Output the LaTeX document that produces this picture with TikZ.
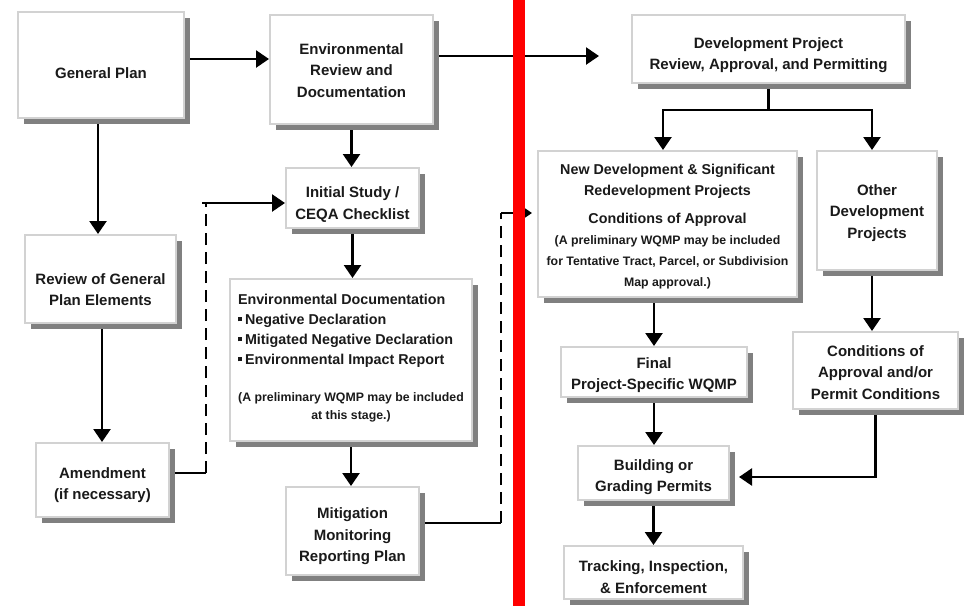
\documentclass[tikz,border=0pt]{standalone}
\usepackage{fontspec}
\setmainfont{Liberation Sans}
\usetikzlibrary{arrows.meta,shadows}
\pgfdeclarelayer{background}
\pgfsetlayers{background,main}
\definecolor{boxedge}{HTML}{D2D2D2}
\definecolor{shadowgray}{HTML}{808080}
\definecolor{txt}{HTML}{1A1A1A}
\newcommand{\notefont}{\fontsize{12.3}{21}\selectfont}
\newcommand{\sqbul}{\raisebox{3pt}{\rule{4pt}{4pt}}\hspace{3pt}}
\newcommand{\wideline}[1]{\makebox[\linewidth][c]{#1}}
% centred lines, drawn #1 pt below the middle of their box
\newcommand{\lowlines}[2]{\raisebox{-#1pt}[\height][\depth]{\begin{tabular}{@{}c@{}}#2\end{tabular}}}
% a paragraph #2 wide, drawn #1 pt below the middle of its box
\newcommand{\lowpar}[3]{\raisebox{-#1pt}[\height][\depth]{\parbox{#2}{#3}}}
\tikzset{
  flowbox/.style={draw=boxedge, line width=2pt, fill=white, inner sep=0pt,
    text=txt, font=\bfseries\fontsize{15}{21.5}\selectfont,
    drop shadow={shadow xshift=6pt, shadow yshift=-6pt, fill=shadowgray, opacity=1}},
  link/.style={draw=black, line width=2.5pt},
  arr/.style={link, -{Triangle[length=13pt,width=17pt]}},
  dashlink/.style={draw=black, line width=2.5pt, dash pattern=on 12pt off 7pt},
}
\begin{document}
\begin{tikzpicture}[x=1pt,y=-1pt]
\useasboundingbox (0,0) rectangle (971,606);

% left column: general plan branch
\node[flowbox, minimum width=166pt, minimum height=106pt] (gp) at (101,65) {\lowlines{9}{General Plan}};
\node[flowbox, minimum width=151pt, minimum height=88pt] (rev) at (100.5,279) {\lowlines{11.5}{Review of General\\Plan Elements}};
\node[flowbox, minimum width=133pt, minimum height=74pt] (amend) at (102.5,480) {\lowlines{4.5}{Amendment\\(if necessary)}};

% middle column: environmental review
\node[flowbox, minimum width=163pt, minimum height=109pt] (env) at (351.5,69.5) {\lowlines{2}{Environmental\\Review and\\Documentation}};
\node[flowbox, minimum width=133pt, minimum height=60pt] (init) at (352.5,198) {\lowlines{6}{Initial Study /\\CEQA Checklist}};
\node[flowbox, minimum width=242pt, minimum height=162pt,
      font=\bfseries\fontsize{14.3}{20}\selectfont] (envdoc) at (351,360)
  {\lowpar{-2}{226pt}{\raggedright Environmental Documentation\\\sqbul Negative Declaration\\\sqbul Mitigated Negative Declaration\\\sqbul Environmental Impact Report\par
   \vspace{19pt}{\centering\fontsize{12.3}{18}\selectfont \wideline{(A preliminary WQMP may be included}\\\wideline{at this stage.)}\par}}};
\node[flowbox, minimum width=133pt, minimum height=88pt] (mit) at (352.5,531) {\lowlines{5}{Mitigation\\Monitoring\\Reporting Plan}};

% right side: development projects
\node[flowbox, minimum width=273pt, minimum height=68pt] (dev) at (768.5,49) {\lowlines{5.5}{Development Project\\Review, Approval, and Permitting}};
\node[flowbox, minimum width=259pt, minimum height=146pt,
      font=\bfseries\fontsize{14.3}{21}\selectfont] (newdev) at (667.5,224)
  {\lowpar{3}{255pt}{\centering New Development \& Significant\\Redevelopment Projects\\[7pt]Conditions of Approval\\{\notefont (A preliminary WQMP may be included\\for Tentative Tract, Parcel, or Subdivision\\Map approval.)}\par}};
\node[flowbox, minimum width=120pt, minimum height=119pt] (other) at (877,210.5) {\lowlines{2}{Other\\Development\\Projects}};
\node[flowbox, minimum width=186pt, minimum height=50pt] (final) at (654,372) {\lowlines{2.5}{Final\\Project-Specific WQMP}};
\node[flowbox, minimum width=151pt, minimum height=54pt] (build) at (653.5,473) {\lowlines{3.5}{Building or\\Grading Permits}};
\node[flowbox, minimum width=179pt, minimum height=53pt] (track) at (653.5,572.5) {\lowlines{5.5}{Tracking, Inspection,\\\& Enforcement}};
\node[flowbox, minimum width=165pt, minimum height=77pt] (cond) at (875.5,370.5) {\lowlines{3}{Conditions of\\Approval and/or\\Permit Conditions}};

\begin{pgfonlayer}{background}
  % top row
  \draw[arr] ([yshift=6pt]gp.east) coordinate (g1) -- (g1 -| env.west);
  \draw[arr, shorten >=32pt] ([yshift=13.5pt]env.east) coordinate (e1) -- (e1 -| dev.west);
  % general plan branch
  \draw[arr] ([xshift=-3pt]gp.south) coordinate (g2) -- (g2 |- rev.north);
  \draw[arr] ([xshift=1.5pt]rev.south) coordinate (r1) -- (r1 |- amend.north);
  \draw[link] ([yshift=7pt]amend.east) -- ++(36,0) coordinate (aturn);
  \coordinate (ain) at ([yshift=-5pt]init.west);
  \draw[dashlink] (aturn) -- (aturn |- ain);
  \draw[arr] ([xshift=-4pt]aturn |- ain) -- (ain);
  % environmental review chain
  \draw[arr] (env.south) -- (env.south |- init.north);
  \draw[arr] (init.south) -- (init.south |- envdoc.north);
  \draw[arr] (envdoc.south) -- (envdoc.south |- mit.north);
  \draw[link] ([yshift=8pt]mit.east) -- ++(81,0) coordinate (mturn);
  \coordinate (nin) at ([yshift=11pt]newdev.west);
  \draw[dashlink] (mturn) -- (mturn |- nin);
  \draw[arr, shorten >=5pt] (mturn |- nin) -- (nin);
  % development review split
  \draw[link] (dev.south) -- ++(0,26) coordinate (split);
  \draw[arr] ([xshift=1.5pt]split) -| ([xshift=-4.5pt]newdev.north);
  \draw[arr] ([xshift=-1.5pt]split) -| ([xshift=-5pt]other.north);
  \draw[arr] (final.north |- newdev.south) -- (final.north);
  \draw[arr] (final.south) -- (final.south |- build.north);
  \draw[arr] (build.south) -- (build.south |- track.north);
  \draw[arr] ([xshift=-5pt]other.south) coordinate (o1) -- (o1 |- cond.north);
  \draw[arr, shorten >=9pt] (cond.south) |- ([yshift=-4pt]build.east);
\end{pgfonlayer}

% dividing bar
\fill[red] (513,0) rectangle (525,606);
\end{tikzpicture}
\end{document}
